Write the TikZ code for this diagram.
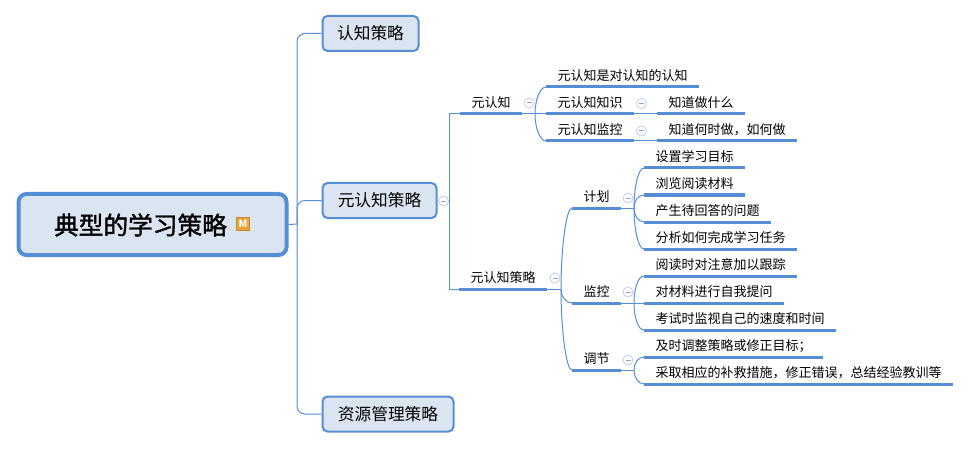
\documentclass[tikz,border=0pt]{standalone}
\usepackage{fontspec}
\setmainfont{Noto Sans CJK SC}
\newfontfamily\titlefont[FakeBold=1.5]{Noto Sans CJK SC}
\usetikzlibrary{calc}

\definecolor{mapblue}{HTML}{558ED5}
\definecolor{mapfill}{HTML}{DBE5F1}
\definecolor{foldring}{HTML}{C9D5F0}
\definecolor{foldbar}{HTML}{9AA6C0}
\definecolor{iconfill}{HTML}{E8A53C}
\definecolor{iconline}{HTML}{C88B2C}

\tikzset{
    rootbox/.style={draw=mapblue, fill=mapfill, line width=4pt, rounded corners=8pt, minimum width=268pt, minimum height=61pt},
    mainbox/.style={draw=mapblue, fill=mapfill, line width=2pt, rounded corners=5pt, minimum height=35pt, inner sep=0pt, font=\fontsize{16.7}{18}\selectfont},
    topic/.style={anchor=south west, inner xsep=11.5pt, inner ysep=0pt, minimum height=22pt, font=\fontsize{13}{14}\selectfont},
    rule/.style={mapblue, line width=3pt},
    link/.style={mapblue, line width=1pt},
    fold/.style={circle, draw=foldring, fill=white, line width=1pt, minimum size=10pt, inner sep=0pt},
    foldmark/.style={foldbar, line width=1pt},
    iconbox/.style={draw=iconline, fill=iconfill, text=white, line width=1pt, minimum size=13pt, inner sep=0pt, font=\bfseries\fontsize{10}{10}\selectfont}
}

\begin{document}
\begin{tikzpicture}[x=1pt, y=-1pt]
    \useasboundingbox (0,0) rectangle (971,449);

    % centre and first level
    \node[rootbox] (root) at (152.5,224.5) {};
    \node[font=\titlefont\fontsize{24.7}{27}\selectfont, inner sep=0pt] (title) at (140.5,225) {典型的学习策略};
    \node[iconbox] (icon) at (243,224) {M};
    \node[mainbox, minimum width=96pt] (cognitive) at (370.5,33.5) {认知策略};
    \node[mainbox, minimum width=114pt] (metabox) at (379.5,200.5) {元认知策略};
    \node[mainbox, minimum width=131pt] (resource) at (388,414) {资源管理策略};

    % second level
    \node[topic] (meta) at (460,114) {元认知};
    \node[topic] (metastrat) at (459,289) {元认知策略};

    % under meta
    \node[topic] (metaA) at (546,87) {元认知是对认知的认知};
    \node[topic] (metaB) at (546,114) {元认知知识};
    \node[topic] (metaC) at (546,141) {元认知监控};
    \node[topic] (metaBa) at (657,114) {知道做什么};
    \node[topic] (metaCa) at (657,141) {知道何时做，如何做};

    % under strategy
    \node[topic] (plan) at (572,208) {计划};
    \node[topic] (monitor) at (572,303) {监控};
    \node[topic] (adjust) at (572,370) {调节};

    \node[topic] (planA) at (644,168) {设置学习目标};
    \node[topic] (planB) at (644,195) {浏览阅读材料};
    \node[topic] (planC) at (644,222) {产生待回答的问题};
    \node[topic] (planD) at (644,249) {分析如何完成学习任务};
    \node[topic] (monitorA) at (644,276) {阅读时对注意加以跟踪};
    \node[topic] (monitorB) at (644,303) {对材料进行自我提问};
    \node[topic] (monitorC) at (644,330) {考试时监视自己的速度和时间};
    \node[topic] (adjustA) at (644,357) {及时调整策略或修正目标；};
    \node[topic] (adjustB) at (644,384) {采取相应的补救措施，修正错误，总结经验教训等};

    % free ends of the connectors
    \coordinate (trunk) at (297,224);
    \coordinate (spine) at (449.5,200.5);
    \coordinate (forkmeta) at (535,114);
    \coordinate (forkstrat) at (561,289);
    \coordinate (forkplan) at (634,208);
    \coordinate (forkmonitor) at (634,303);
    \coordinate (forkadjust) at (634,370);

    % connectors
    \draw[link] (root.east) -- (trunk);
    \draw[link, rounded corners=8pt] (trunk) |- (cognitive.west);
    \draw[link, rounded corners=8pt] (trunk) |- (metabox.west);
    \draw[link, rounded corners=8pt] (trunk) |- (resource.west);
    \draw[link] (metabox.east) -- (spine);
    \draw[link] (spine) |- (meta.south west);
    \draw[link] (spine) |- (metastrat.south west);

    \draw[link] (meta.south east) -- (metaB.south west);
    \draw[link] (metaB.south east) -- (metaBa.south west);
    \draw[link] (metaC.south east) -- (metaCa.south west);
    \draw[link] (metastrat.south east) -- (forkstrat);
    \draw[link] (plan.south east) -- (forkplan);
    \draw[link] (monitor.south east) -- (monitorB.south west);
    \draw[link] (adjust.south east) -- (forkadjust);

    % curved branches
    \foreach \from/\to/\bend in {forkmeta/metaA/-14, forkmeta/metaC/14,
        forkstrat/plan/-40, forkstrat/monitor/8, forkstrat/adjust/40,
        forkplan/planA/-20, forkplan/planB/-7, forkplan/planC/7, forkplan/planD/20,
        forkmonitor/monitorA/-14, forkmonitor/monitorC/14,
        forkadjust/adjustA/-7, forkadjust/adjustB/7}
        \draw[link] (\from) .. controls +(0,\bend) and +(-6,0) .. (\to.south west);

    % thick lines under the topics
    \foreach \topic in {meta, metastrat, metaA, metaB, metaC, metaBa, metaCa,
        plan, monitor, adjust, planA, planB, planC, planD,
        monitorA, monitorB, monitorC, adjustA, adjustB}
        \draw[rule] (\topic.south west) -- (\topic.south east);

    % fold marks
    \foreach \name/\x/\y in {metabox/443.5/201, meta/529/103, metaB/641.5/103.5, metaC/641.5/131,
        metastrat/555/278, plan/628/198, monitor/628/292, adjust/628/360} {
        \node[fold] (fold\name) at (\x,\y) {};
        \draw[foldmark] ($(fold\name.center)+(-2.5,0)$) -- ($(fold\name.center)+(2.5,0)$);
    }
\end{tikzpicture}
\end{document}
